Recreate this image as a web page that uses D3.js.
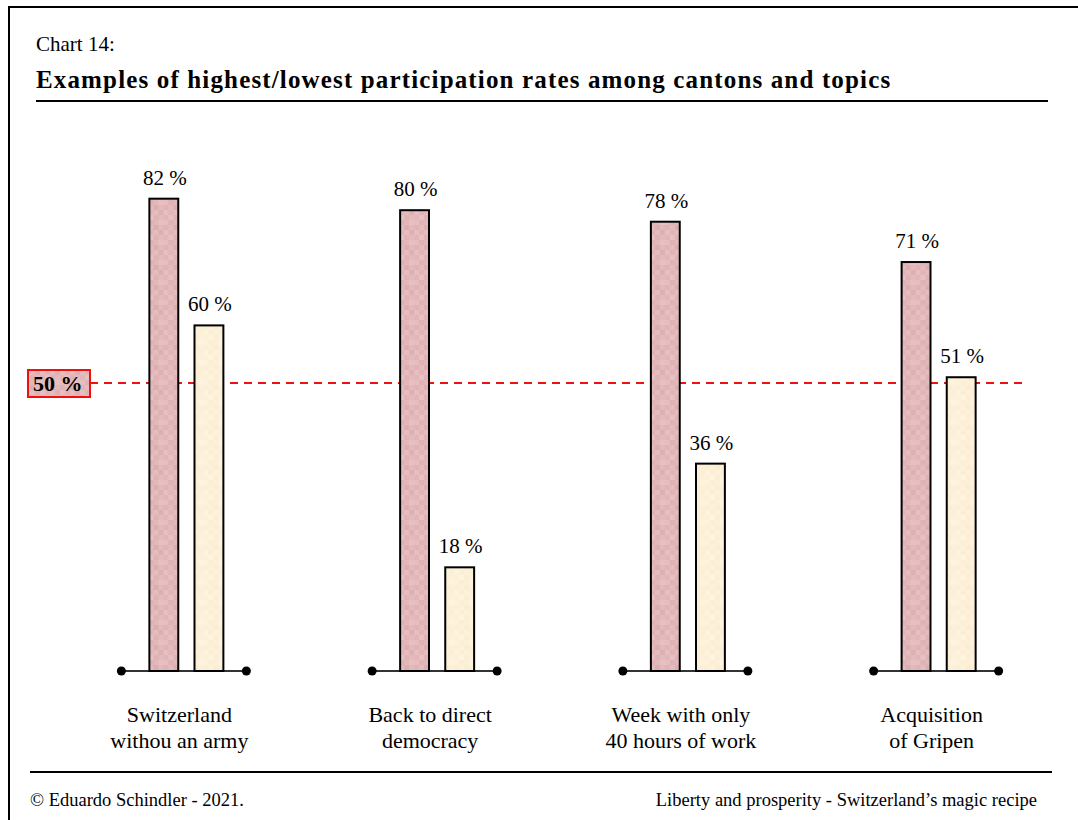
<!DOCTYPE html>
<html>
<head>
<meta charset="utf-8">
<script src="https://cdn.jsdelivr.net/npm/d3@7"></script>
<style>
  html, body { margin: 0; padding: 0; background: #ffffff; }
  svg { display: block; }
  text { font-family: "Liberation Serif", "Times New Roman", serif; fill: #000; }
</style>
</head>
<body>
<svg id="chart" width="1078" height="820"></svg>
<script>
// Topics (two-line labels) and participation rates
const topics = [
  ["Switzerland", "withou an army"],
  ["Back to direct", "democracy"],
  ["Week with only", "40 hours of work"],
  ["Acquisition", "of Gripen"]
];
const highest = [82, 80, 78, 71];
const lowest = [60, 18, 36, 51];
const referenceLevel = 50;
const seriesKeys = ["high", "low"];

const svg = d3.select("#chart");
const W = 1078, H = 820;

// Textured fills
const defs = svg.append("defs");
function mottled(id, base, shades) {
  const cell = 5, n = 4;
  const p = defs.append("pattern")
    .attr("id", id).attr("patternUnits", "userSpaceOnUse")
    .attr("width", cell * n).attr("height", cell * n);
  p.append("rect").attr("width", cell * n).attr("height", cell * n).attr("fill", base);
  shades.forEach((c, i) => {
    p.append("rect")
      .attr("x", (i % n) * cell).attr("y", Math.floor(i / n) * cell)
      .attr("width", cell).attr("height", cell).attr("fill", c);
  });
}
mottled("pinkTex", "#e3b8ba", [
  "#e6bec0", "#dfb2b5", "#e3b8ba", "#e8c0c2",
  "#e0b4b6", "#e5bbbd", "#dcaeb1", "#e4b9bb",
  "#e7bfc1", "#e1b5b8", "#e6bcbe", "#ddb0b3",
  "#e2b6b9", "#e8c1c3", "#dfb3b6", "#e5babc"
]);
mottled("creamTex", "#fcf0d8", [
  "#fdf2db", "#fbeed5", "#fcf0d8", "#fef3de",
  "#fbefd6", "#fdf1da", "#faedd4", "#fcf0d9",
  "#fef3dd", "#fbeed6", "#fdf1da", "#fbefd6",
  "#fcf0d8", "#fef4df", "#fbeed5", "#fdf1db"
]);

// Frame
svg.append("line").attr("x1", 8).attr("x2", W).attr("y1", 7).attr("y2", 7)
  .attr("stroke", "#000").attr("stroke-width", 2);
svg.append("line").attr("x1", 9).attr("x2", 9).attr("y1", 6).attr("y2", H)
  .attr("stroke", "#000").attr("stroke-width", 2);

// Header
svg.append("text").attr("x", 36).attr("y", 51)
  .style("font-size", "21px").text("Chart 14:");
svg.append("text").attr("x", 36).attr("y", 88)
  .style("font-size", "25px").style("font-weight", "bold")
  .style("letter-spacing", "1.15px")
  .text("Examples of highest/lowest participation rates among cantons and topics");
svg.append("line").attr("x1", 36).attr("x2", 1048).attr("y1", 101).attr("y2", 101)
  .attr("stroke", "#000").attr("stroke-width", 2);

// Scales
const y = d3.scaleLinear().domain([0, 100]).range([671, 95]);
const x = d3.scaleBand().domain(d3.range(topics.length)).range([58, 1061]).padding(0);
const center = i => x(i) + x.bandwidth() / 2;
const inner = d3.scaleBand().domain(seriesKeys).range([-34, 40])
  .paddingInner(0.36).paddingOuter(0);

// Reference line at 50 %
svg.append("line")
  .attr("x1", 90).attr("x2", 1022)
  .attr("y1", y(referenceLevel)).attr("y2", y(referenceLevel))
  .attr("stroke", "#f01010").attr("stroke-width", 2)
  .attr("stroke-dasharray", "8,6");
svg.append("rect")
  .attr("x", 28).attr("y", y(referenceLevel) - 13)
  .attr("width", 62).attr("height", 27)
  .attr("fill", "url(#pinkTex)").attr("stroke", "#f01010").attr("stroke-width", 2);
svg.append("text")
  .attr("x", 33).attr("y", y(referenceLevel) + 8)
  .style("font-size", "22px").style("font-weight", "bold")
  .text(referenceLevel + " %");

// Groups
const groups = svg.selectAll("g.topic")
  .data(topics.map((t, i) => ({ i, label: t, high: highest[i], low: lowest[i] })))
  .join("g").attr("class", "topic")
  .attr("transform", d => `translate(${center(d.i)},0)`);

// Baseline with end dots
groups.append("line")
  .attr("x1", -62).attr("x2", 63)
  .attr("y1", y(0)).attr("y2", y(0))
  .attr("stroke", "#333").attr("stroke-width", 2);
groups.selectAll("circle.end")
  .data([-62, 63]).join("circle").attr("class", "end")
  .attr("cx", d => d).attr("cy", y(0)).attr("r", 4.5).attr("fill", "#000");

// Bars
groups.selectAll("rect.bar")
  .data(d => seriesKeys.map(k => ({ key: k, value: d[k] })))
  .join("rect").attr("class", "bar")
  .attr("x", d => inner(d.key))
  .attr("width", inner.bandwidth())
  .attr("y", d => y(d.value))
  .attr("height", d => y(0) - y(d.value))
  .attr("fill", d => d.key === "high" ? "url(#pinkTex)" : "url(#creamTex)")
  .attr("stroke", "#000").attr("stroke-width", 2);

// Value labels
groups.selectAll("text.val")
  .data(d => seriesKeys.map(k => ({ key: k, value: d[k] })))
  .join("text").attr("class", "val")
  .attr("x", d => inner(d.key) + inner.bandwidth() / 2 + 1)
  .attr("y", d => y(d.value) - 14)
  .attr("text-anchor", "middle")
  .style("font-size", "21px")
  .text(d => d.value + " %");

// Category labels
groups.each(function (d) {
  const g = d3.select(this);
  d.label.forEach((line, k) => {
    g.append("text")
      .attr("x", -4).attr("y", 722 + k * 26)
      .attr("text-anchor", "middle")
      .style("font-size", "22px")
      .text(line);
  });
});

// Footer
svg.append("line").attr("x1", 30).attr("x2", 1052).attr("y1", 772).attr("y2", 772)
  .attr("stroke", "#000").attr("stroke-width", 2);
svg.append("text").attr("x", 30).attr("y", 806)
  .style("font-size", "18.5px").text("\u00A9 Eduardo Schindler - 2021.");
svg.append("text").attr("x", 1037).attr("y", 806).attr("text-anchor", "end")
  .style("font-size", "18.5px").text("Liberty and prosperity - Switzerland\u2019s magic recipe");
</script>
</body>
</html>
